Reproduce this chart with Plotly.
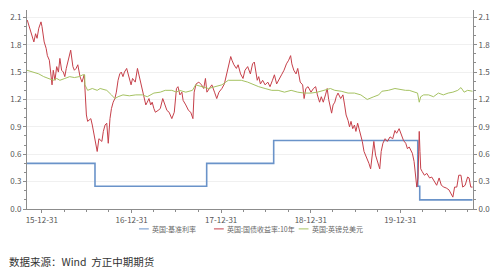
import plotly.graph_objects as go

# ---------------- data ----------------
rate_dates = ["2015-11-01", "2016-08-04", "2017-11-02", "2018-08-02", "2020-03-11", "2020-03-19", "2020-10-20"]
rate_vals = [0.50, 0.25, 0.50, 0.75, 0.25, 0.10, 0.10]

gilt_dates = [
    "2015-11-02", "2015-11-09", "2015-11-18", "2015-11-29", "2015-12-06", "2015-12-12", "2015-12-19", "2015-12-28",
    "2016-01-01", "2016-01-10", "2016-01-18", "2016-01-23", "2016-01-31", "2016-02-05", "2016-02-11", "2016-02-16",
    "2016-02-23", "2016-03-01", "2016-03-08", "2016-03-14", "2016-03-21", "2016-03-28", "2016-04-03", "2016-04-09",
    "2016-04-20", "2016-04-27", "2016-05-06", "2016-05-12", "2016-05-19", "2016-05-26", "2016-06-04", "2016-06-12",
    "2016-06-21", "2016-06-25", "2016-06-30", "2016-07-05", "2016-07-11", "2016-07-18", "2016-07-24", "2016-07-31",
    "2016-08-06", "2016-08-13", "2016-08-20", "2016-08-25", "2016-09-01", "2016-09-07", "2016-09-14", "2016-09-21",
    "2016-09-27", "2016-10-04", "2016-10-10", "2016-10-17", "2016-10-24", "2016-10-30", "2016-11-06", "2016-11-13",
    "2016-11-19", "2016-11-26", "2016-12-02", "2016-12-11", "2016-12-19", "2016-12-29",
    "2017-01-04", "2017-01-15", "2017-01-24", "2017-01-31", "2017-02-07", "2017-02-13", "2017-02-20", "2017-02-27",
    "2017-03-05", "2017-03-12", "2017-03-19", "2017-03-25", "2017-04-01", "2017-04-07", "2017-04-18", "2017-04-27",
    "2017-05-07", "2017-05-14", "2017-05-24", "2017-06-02", "2017-06-13", "2017-06-23", "2017-07-02", "2017-07-08",
    "2017-07-16", "2017-07-24", "2017-07-29", "2017-08-09", "2017-08-20", "2017-08-29", "2017-09-07", "2017-09-12",
    "2017-09-20", "2017-10-01", "2017-10-12", "2017-10-21", "2017-10-28", "2017-11-03", "2017-11-13", "2017-11-23",
    "2017-12-04", "2017-12-13", "2017-12-22",
    "2018-01-03", "2018-01-13", "2018-01-22", "2018-01-29", "2018-02-08", "2018-02-13", "2018-02-21", "2018-03-03",
    "2018-03-10", "2018-03-20", "2018-03-30", "2018-04-07", "2018-04-18", "2018-04-29", "2018-05-08", "2018-05-15",
    "2018-05-20", "2018-05-27", "2018-06-02", "2018-06-09", "2018-06-18", "2018-06-28", "2018-07-09", "2018-07-18",
    "2018-07-28", "2018-08-05", "2018-08-14", "2018-08-23", "2018-09-03", "2018-09-13", "2018-09-23", "2018-10-02",
    "2018-10-10", "2018-10-15", "2018-10-23", "2018-11-01", "2018-11-08", "2018-11-18", "2018-11-28", "2018-12-04",
    "2018-12-11", "2018-12-20",
    "2019-01-01", "2019-01-11", "2019-01-20", "2019-01-27", "2019-02-05", "2019-02-12", "2019-02-20", "2019-03-01",
    "2019-03-08", "2019-03-14", "2019-03-21", "2019-03-26", "2019-04-01", "2019-04-08", "2019-04-14", "2019-04-21",
    "2019-05-02", "2019-05-11", "2019-05-18", "2019-05-24", "2019-06-01", "2019-06-07", "2019-06-13", "2019-06-20",
    "2019-06-27", "2019-07-03", "2019-07-10", "2019-07-16", "2019-07-23", "2019-07-29", "2019-08-05", "2019-08-12",
    "2019-08-18", "2019-08-25", "2019-09-01", "2019-09-08", "2019-09-14", "2019-09-21", "2019-09-28", "2019-10-08",
    "2019-10-14", "2019-10-21", "2019-10-30", "2019-11-08", "2019-11-19", "2019-11-30", "2019-12-09", "2019-12-16",
    "2019-12-26",
    "2020-01-04", "2020-01-13", "2020-01-22", "2020-01-29", "2020-02-05", "2020-02-12", "2020-02-18", "2020-02-25",
    "2020-03-03", "2020-03-07", "2020-03-12", "2020-03-17", "2020-03-20", "2020-03-23", "2020-03-29", "2020-04-07",
    "2020-04-17", "2020-04-28", "2020-05-07", "2020-05-17", "2020-05-27", "2020-06-06", "2020-06-15", "2020-06-25",
    "2020-07-05", "2020-07-16", "2020-07-25", "2020-08-01", "2020-08-08", "2020-08-17", "2020-08-25", "2020-09-03",
    "2020-09-10", "2020-09-20", "2020-09-30", "2020-10-06", "2020-10-13", "2020-10-20",
]
gilt_vals = [
    2.07, 2.01, 1.94, 1.83, 1.92, 1.87, 1.98, 2.05,
    2.00, 1.83, 1.76, 1.68, 1.63, 1.50, 1.36, 1.52,
    1.41, 1.56, 1.50, 1.65, 1.52, 1.50, 1.45, 1.54,
    1.65, 1.74, 1.56, 1.52, 1.54, 1.58, 1.45, 1.39,
    1.47, 1.21, 1.03, 0.96, 0.97, 0.99, 0.92, 0.81,
    0.70, 0.63, 0.77, 0.76, 0.74, 0.85, 0.92, 0.94,
    0.72, 0.99, 1.10, 1.17, 1.21, 1.28, 1.41, 1.48,
    1.50, 1.45, 1.50, 1.54, 1.45, 1.36,
    1.43, 1.39, 1.54, 1.45, 1.36, 1.30, 1.23, 1.14,
    1.17, 1.21, 1.14, 1.17, 1.10, 1.06, 1.08, 1.10,
    1.21, 1.16, 1.08, 1.06, 0.99, 1.06, 1.32, 1.34,
    1.25, 1.28, 1.19, 1.14, 1.08, 1.06, 0.99, 1.28,
    1.37, 1.39, 1.36, 1.32, 1.43, 1.28, 1.32, 1.36,
    1.28, 1.21, 1.28,
    1.32, 1.37, 1.47, 1.58, 1.67, 1.63, 1.58, 1.54,
    1.58, 1.48, 1.43, 1.52, 1.56, 1.48, 1.59, 1.61,
    1.54, 1.41, 1.45, 1.37, 1.41, 1.36, 1.39, 1.34,
    1.41, 1.47, 1.37, 1.41, 1.47, 1.52, 1.59, 1.63,
    1.68, 1.59, 1.52, 1.48, 1.54, 1.39, 1.36, 1.21,
    1.32, 1.34,
    1.28, 1.32, 1.34, 1.25, 1.17, 1.23, 1.17, 1.25,
    1.32, 1.20, 1.10, 1.05, 1.14, 1.17, 1.23, 1.27,
    1.21, 1.25, 1.14, 1.03, 0.97, 0.90, 0.96, 0.88,
    0.92, 0.85, 0.94, 0.88, 0.81, 0.74, 0.63, 0.59,
    0.55, 0.50, 0.44, 0.63, 0.74, 0.59, 0.52, 0.44,
    0.63, 0.72, 0.77, 0.74, 0.79, 0.77, 0.86, 0.83,
    0.88,
    0.81, 0.75, 0.72, 0.66, 0.68, 0.63, 0.61, 0.52,
    0.37, 0.24, 0.34, 0.85, 0.63, 0.44, 0.41, 0.37,
    0.39, 0.34, 0.35, 0.30, 0.26, 0.34, 0.26, 0.24,
    0.23, 0.21, 0.17, 0.13, 0.24, 0.24, 0.37, 0.37,
    0.24, 0.26, 0.35, 0.34, 0.24, 0.24,
]

gbp_dates = [
    "2015-11-01", "2015-11-29", "2015-12-19", "2016-01-08", "2016-01-27", "2016-02-16", "2016-03-01", "2016-03-14",
    "2016-04-03", "2016-04-23", "2016-05-12", "2016-06-01", "2016-06-15", "2016-06-23", "2016-06-24", "2016-07-05",
    "2016-07-24", "2016-08-13", "2016-08-25", "2016-09-21", "2016-10-10", "2016-10-24", "2016-11-06", "2016-11-26",
    "2016-12-22", "2017-01-17", "2017-02-13", "2017-03-05", "2017-04-01", "2017-04-27", "2017-05-17", "2017-06-13",
    "2017-07-02", "2017-07-14", "2017-08-09", "2017-09-05", "2017-09-18", "2017-10-14", "2017-11-09", "2017-12-06",
    "2018-01-03", "2018-01-29", "2018-02-25", "2018-03-23", "2018-04-18", "2018-05-15", "2018-06-02", "2018-06-28",
    "2018-07-25", "2018-08-20", "2018-09-15", "2018-10-12", "2018-11-08", "2018-12-04", "2019-01-01", "2019-01-27",
    "2019-02-23", "2019-03-21", "2019-04-08", "2019-05-04", "2019-06-01", "2019-06-27", "2019-07-23", "2019-08-18",
    "2019-09-14", "2019-10-04", "2019-10-17", "2019-11-12", "2019-12-09", "2019-12-29", "2020-01-21", "2020-02-05",
    "2020-02-25", "2020-03-10", "2020-03-17", "2020-03-23", "2020-04-04", "2020-04-24", "2020-05-14", "2020-06-03",
    "2020-06-23", "2020-07-13", "2020-08-01", "2020-08-21", "2020-09-03", "2020-09-16", "2020-09-30", "2020-10-20",
]
gbp_vals = [
    1.52, 1.50, 1.48, 1.45, 1.43, 1.41, 1.43, 1.41,
    1.43, 1.45, 1.44, 1.45, 1.47, 1.47, 1.36, 1.30,
    1.32, 1.30, 1.32, 1.30, 1.25, 1.21, 1.23, 1.25,
    1.24, 1.25, 1.25, 1.23, 1.27, 1.28, 1.30, 1.30,
    1.28, 1.30, 1.28, 1.30, 1.36, 1.34, 1.32, 1.34,
    1.36, 1.41, 1.41, 1.41, 1.39, 1.36, 1.34, 1.32,
    1.30, 1.30, 1.28, 1.30, 1.28, 1.27, 1.27, 1.28,
    1.30, 1.32, 1.30, 1.29, 1.27, 1.27, 1.25, 1.20,
    1.23, 1.25, 1.29, 1.30, 1.32, 1.31, 1.30, 1.30,
    1.28, 1.27, 1.17, 1.23, 1.25, 1.25, 1.23, 1.27,
    1.25, 1.27, 1.28, 1.30, 1.33, 1.28, 1.30, 1.29,
]

x_tick_vals = ["2015-12-31", "2016-12-31", "2017-12-31", "2018-12-31", "2019-12-31"]
x_tick_text = ["15-12-31", "16-12-31", "17-12-31", "18-12-31", "19-12-31"]
y_tick_vals = [0.0, 0.3, 0.6, 0.9, 1.2, 1.5, 1.8, 2.1]
y_tick_text = ["0.0", "0.3", "0.6", "0.9", "1.2", "1.5", "1.8", "2.1"]

names = ["英国:基准利率", "英国:国债收益率:10年", "英国:英镑兑美元"]
colors = ["#6a93c9", "#c6404a", "#a5c262"]

# ---------------- figure ----------------
fig = go.Figure()
fig.add_trace(go.Scatter(x=rate_dates, y=rate_vals, mode="lines", name=names[0],
                         line=dict(color=colors[0], width=1.6, shape="hv")))
fig.add_trace(go.Scatter(x=gilt_dates, y=gilt_vals, mode="lines", name=names[1],
                         line=dict(color=colors[1], width=1)))
fig.add_trace(go.Scatter(x=gbp_dates, y=gbp_vals, mode="lines", name=names[2], yaxis="y2",
                         line=dict(color=colors[2], width=1)))

font_family = "Noto Sans CJK SC, Noto Sans, sans-serif"
yrange = [0, 2.18]
axis_col = "#8c8c8c"

# compact legend built from short line keys + labels (paper coordinates)
legend_key_x = [0.2511, 0.4192, 0.6092]   # left end of each key
key_len = 0.022
legend_y = -0.10
shapes = []
annotations = []
for nm, col, kx in zip(names, colors, legend_key_x):
    shapes.append(dict(type="line", xref="paper", yref="paper", x0=kx, x1=kx + key_len,
                       y0=legend_y, y1=legend_y, line=dict(color=col, width=1)))
    annotations.append(dict(text=nm, xref="paper", yref="paper", x=kx + key_len + 0.003, y=legend_y,
                            xanchor="left", yanchor="middle", showarrow=False,
                            font=dict(size=7, color="#666666", family=font_family)))
annotations.append(dict(text="数据来源：Wind  方正中期期货", xref="paper", yref="paper",
                        x=-0.045, y=-0.215, xanchor="left", yanchor="top", showarrow=False,
                        font=dict(size=10.5, color="#333333", family=font_family)))

fig.update_layout(
    width=500, height=270,
    margin=dict(l=23, r=19, t=10, b=61),
    paper_bgcolor="white", plot_bgcolor="white",
    font=dict(family=font_family, size=8, color="#555555"),
    showlegend=False,
    xaxis=dict(
        type="date", range=["2015-11-01", "2020-10-22"],
        tickmode="array", tickvals=x_tick_vals, ticktext=x_tick_text,
        showline=True, linecolor=axis_col, linewidth=1,
        ticks="outside", ticklen=3, tickcolor=axis_col,
        minor=dict(dtick="M3", tick0="2015-12-31", ticks="outside", ticklen=2, tickcolor=axis_col, showgrid=False),
        showgrid=False, zeroline=False,
        tickfont=dict(size=8, color="#555555"),
    ),
    yaxis=dict(
        range=yrange, tickmode="array", tickvals=y_tick_vals, ticktext=y_tick_text,
        showline=True, linecolor=axis_col, linewidth=1,
        ticks="outside", ticklen=3, tickcolor=axis_col,
        minor=dict(dtick=0.1, tick0=0, ticks="outside", ticklen=2, tickcolor=axis_col, showgrid=False),
        showgrid=True, gridcolor="#f0f0f0", gridwidth=1, zeroline=False,
        tickfont=dict(size=8, color="#555555"),
    ),
    yaxis2=dict(
        range=yrange, overlaying="y", side="right", tickmode="array",
        tickvals=y_tick_vals, ticktext=y_tick_text,
        showline=True, linecolor=axis_col, linewidth=1,
        ticks="outside", ticklen=3, tickcolor=axis_col,
        minor=dict(dtick=0.1, tick0=0, ticks="outside", ticklen=2, tickcolor=axis_col, showgrid=False),
        showgrid=False, zeroline=False,
        tickfont=dict(size=8, color="#555555"),
    ),
    shapes=shapes,
    annotations=annotations,
)

fig.write_html("out.html")
